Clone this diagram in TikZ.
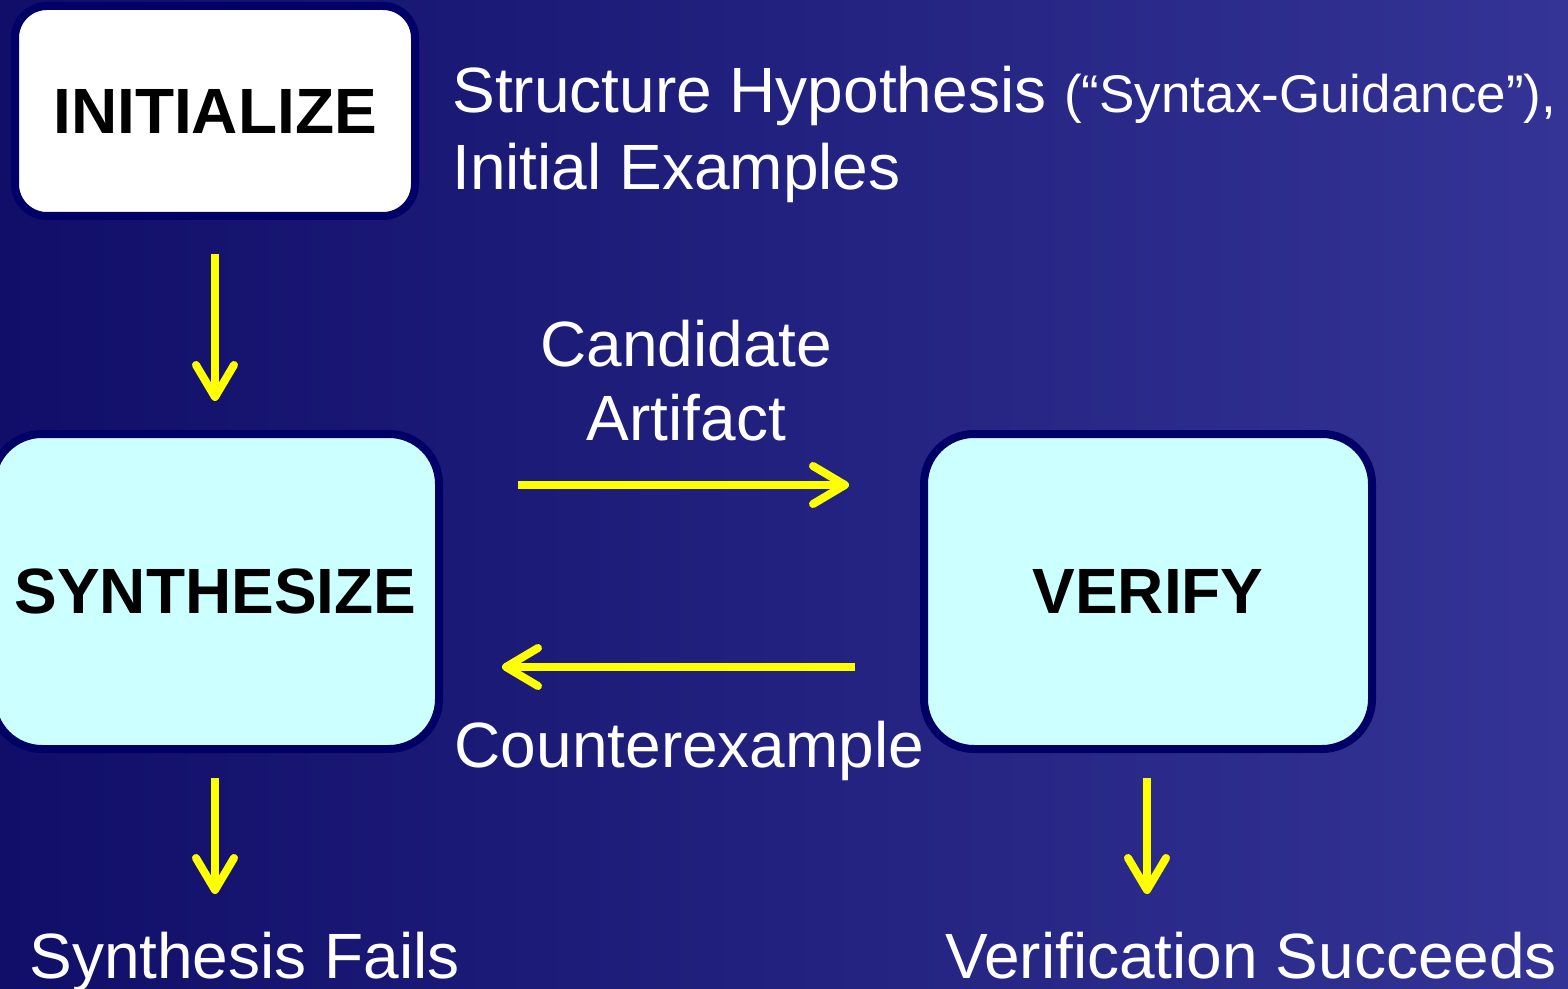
\documentclass[tikz,border=0pt]{standalone}
\usepackage{fontspec}
\setmainfont{Liberation Sans}
\usetikzlibrary{arrows.meta}
\definecolor{bgL}{RGB}{16,14,104}
\definecolor{bgR}{RGB}{52,52,150}
\definecolor{bord}{RGB}{0,0,102}
\definecolor{cyanfill}{RGB}{204,255,255}
\definecolor{yel}{RGB}{255,255,0}
\begin{document}
\begin{tikzpicture}[x=0.5pt,y=-0.5pt,
  box/.style={draw=bord, line width=4pt, rectangle, inner sep=0pt,
    font=\fontsize{32}{38}\selectfont\bfseries},
  arr/.style={draw=yel, line width=4pt, -{Straight Barb[length=16pt,width=19pt,round]}},
  lbl/.style={text=white, font=\fontsize{32}{38}\selectfont, inner sep=0pt}]
\shade[left color=bgL, right color=bgR] (0,0) rectangle (1568,989);
\useasboundingbox (0,0) rectangle (1568,989);

\node[box, fill=white, rounded corners=16pt, minimum width=200pt, minimum height=105pt] (init) at (215,111) {INITIALIZE};
\node[box, fill=cyanfill, rounded corners=25pt, minimum width=223.5pt, minimum height=157.5pt] (synth) at (215.5,591.5) {SYNTHESIZE};
\node[box, fill=cyanfill, rounded corners=25pt, minimum width=224pt, minimum height=157.5pt] (verify) at (1148,591.5) {VERIFY};

\node[lbl, anchor=base west] (hyp) at (452,113) {Structure Hypothesis {\fontsize{26.5}{30}\selectfont (“Syntax-Guidance”),}};
\node[lbl, anchor=base west] (ex) at (452,190) {Initial Examples};
\node[lbl, anchor=base] (cand) at (686.5,367) {Candidate};
\node[lbl, anchor=base] (art) at (686.5,440) {Artifact};
\node[lbl, anchor=base] (cex) at (689.5,767) {Counterexample};
\node[lbl, anchor=base] (sf) at (244.5,978) {Synthesis Fails};
\node[lbl, anchor=base] (vs) at (1251,978) {Verification Succeeds};

\coordinate (fe) at (215,894);
\coordinate (ve) at (1147,894);

\draw[arr, shorten <=17pt, shorten >=14.5pt] (init.south) -- (init.south |- synth.north);
\draw[arr, shorten <=37.5pt, shorten >=35.5pt] ([yshift=53.25pt]synth.east) -- ([yshift=53.25pt]verify.west);
\draw[arr, shorten <=32.5pt, shorten >=29.5pt] ([yshift=-37.75pt]verify.west) -- ([yshift=-37.75pt]synth.east);
\draw[arr, shorten <=12.5pt] (synth.south -| fe) -- (fe);
\draw[arr, shorten <=12.5pt] (verify.south -| ve) -- (ve);
\end{tikzpicture}
\end{document}
